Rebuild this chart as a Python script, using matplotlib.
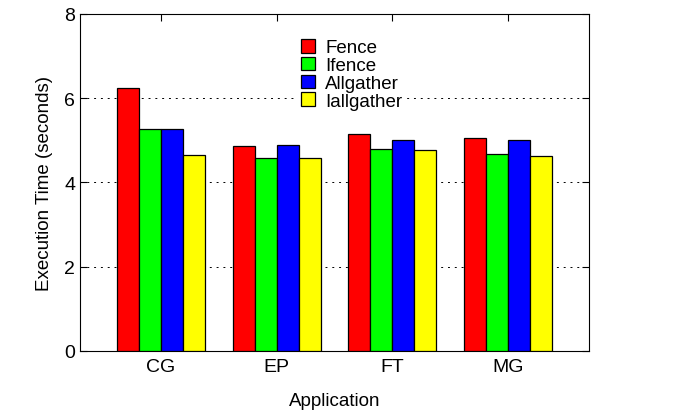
import matplotlib
matplotlib.use("Agg")
import matplotlib.pyplot as plt
import numpy as np

plt.rcParams["font.family"] = ["Liberation Sans", "DejaVu Sans"]

apps = ["CG", "EP", "FT", "MG"]
series = ["Fence", "Ifence", "Allgather", "Iallgather"]
fence = [6.24, 4.86, 5.15, 5.06]
ifence = [5.26, 4.58, 4.80, 4.67]
allgather = [5.28, 4.88, 5.01, 5.00]
iallgather = [4.65, 4.57, 4.77, 4.64]
colors = ["#ff0000", "#00ff00", "#0000ff", "#ffff00"]

fig = plt.figure(figsize=(6.99, 4.14), dpi=100)
ax = fig.add_axes([0.1144, 0.1498, 0.7282, 0.8140])

x = np.arange(len(apps))
w = 0.19
for i, (vals, name, c) in enumerate(zip([fence, ifence, allgather, iallgather], series, colors)):
    ax.bar(x + (i - 1.5) * w, vals, w, color=c, edgecolor="black", linewidth=0.9,
           label=name, zorder=3)

ax.set_xlim(-0.7, 3.7)
ax.set_ylim(0, 8)
ax.set_yticks([0, 2, 4, 6, 8])
ax.set_xticks(x)
ax.set_xticklabels(apps)
ax.yaxis.grid(True, linestyle=(0, (2, 5)), color="black", linewidth=0.7, zorder=0)
ax.set_axisbelow(True)
ax.tick_params(direction="in", top=True, right=True, length=5, labelsize=14, width=0.8)
ax.tick_params(axis="x", bottom=False, pad=5)
ax.set_xlabel("Application", fontsize=13.5, labelpad=12)
ax.set_ylabel("Execution Time (seconds)", fontsize=13.5, labelpad=8)

leg = ax.legend(loc="upper left", bbox_to_anchor=(0.427, 0.937), frameon=True,
                fancybox=False, edgecolor="none", facecolor="white", framealpha=1,
                handlelength=0.75, handleheight=0.75, labelspacing=0.02,
                handletextpad=0.55, borderpad=0.2, borderaxespad=0,
                prop={"size": 13.5})
leg.set_zorder(5)

fig.savefig("out.png", dpi=100)
